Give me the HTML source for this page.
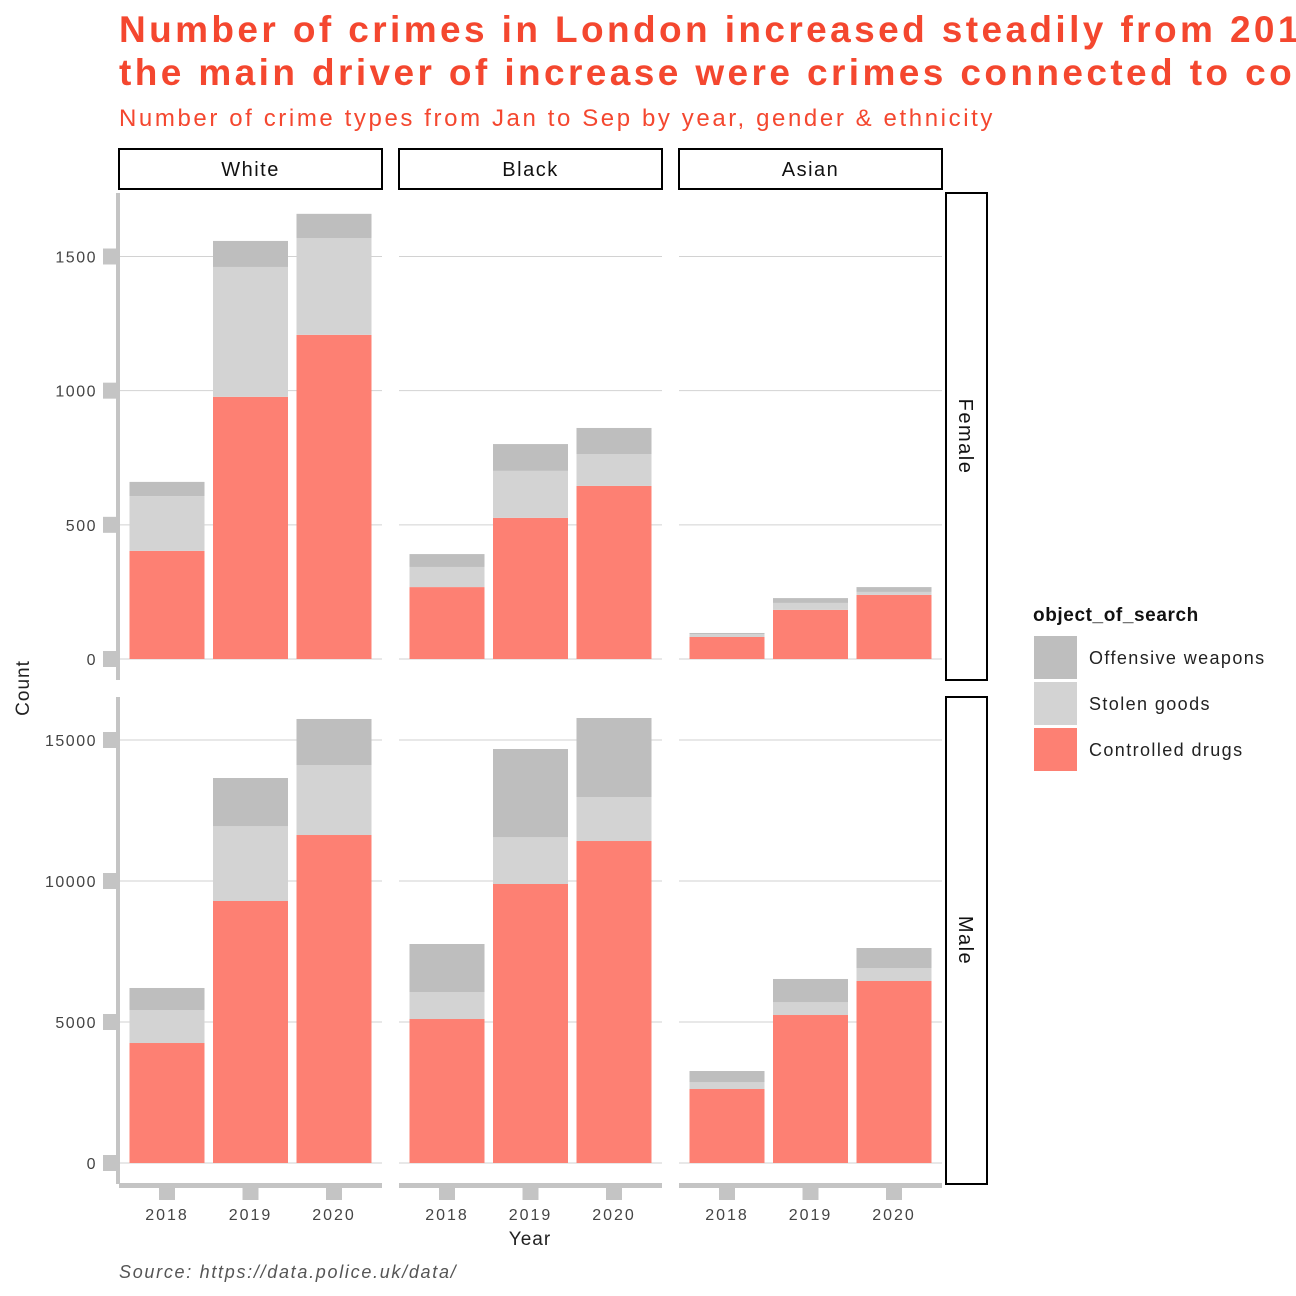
<!DOCTYPE html>
<html><head><meta charset="utf-8"><style>
body{margin:0;background:#fff}
svg{display:block;font-family:"Liberation Sans",sans-serif}
</style></head><body>
<svg id="chart" width="1296" height="1296" viewBox="0 0 1296 1296">
<text x="119" y="42" font-size="37" font-weight="bold" letter-spacing="3.4" fill="#F4472F">Number of crimes in London increased steadily from 2018 to 2020,</text>
<text x="119" y="85" font-size="37" font-weight="bold" letter-spacing="3.4" fill="#F4472F">the main driver of increase were crimes connected to controlled drugs</text>
<text x="119" y="126" font-size="24" letter-spacing="2.6" fill="#F4472F">Number of crime types from Jan to Sep by year, gender &amp; ethnicity</text>
<g id="plots"></g>
<text x="530" y="1245" font-size="19" letter-spacing="1" text-anchor="middle" fill="#222">Year</text>
<text transform="translate(29,688) rotate(-90)" font-size="19" letter-spacing="1" text-anchor="middle" fill="#222">Count</text>
<text x="119" y="1278" font-size="18" font-style="italic" letter-spacing="1.7" fill="#555">Source:  https://data.police.uk/data/</text>
<g>
<text x="1033" y="621" font-size="19" font-weight="bold" letter-spacing="0.6" fill="#111">object_of_search</text>
<rect x="1034" y="636" width="43" height="43" fill="#bebebe"/>
<text x="1089" y="664" font-size="18" letter-spacing="1.4" fill="#222">Offensive weapons</text>
<rect x="1034" y="682" width="43" height="43" fill="#d3d3d3"/>
<text x="1089" y="710" font-size="18" letter-spacing="1.4" fill="#222">Stolen goods</text>
<rect x="1034" y="728" width="43" height="43" fill="#FD8073"/>
<text x="1089" y="756" font-size="18" letter-spacing="1.4" fill="#222">Controlled drugs</text>
</g>
</svg>
<script>
const years = ["2018","2019","2020"];
const ethnicities = ["White","Black","Asian"];
const genders = ["Female","Male"];
// values per gender -> ethnicity -> year
const drugsFemale = [[403,977,1208],[268,526,645],[82,183,239]];
const stolenFemale = [[204,484,361],[75,175,119],[11,26,11]];
const weaponsFemale = [[53,97,90],[48,100,97],[4,18,18]];
const drugsMale = [[4255,9291,11631],[5106,9894,11418],[2624,5248,6454]];
const stolenMale = [[1171,2659,2482],[958,1666,1561],[248,461,461]];
const weaponsMale = [[780,1702,1632],[1702,3121,2801],[390,816,709]];
const femaleTicks = [0,500,1000,1500];
const maleTicks = [0,5000,10000,15000];

const NS="http://www.w3.org/2000/svg";
const g=document.getElementById('plots');
function mk(tag,attrs,parent){const e=document.createElementNS(NS,tag);for(const k in attrs)e.setAttribute(k,attrs[k]);(parent||g).appendChild(e);return e;}
const panelX=[119,399,679], panelW=263;
const rows=[
 {top:193,bottom:680,zeroY:659,scale:(659-256.5)/1500,ticks:femaleTicks,d:drugsFemale,s:stolenFemale,w:weaponsFemale},
 {top:697,bottom:1184,zeroY:1163,scale:(1163-740)/15000,ticks:maleTicks,d:drugsMale,s:stolenMale,w:weaponsMale}
];
function xBand(p,i){return panelX[p]+48+83.5*i;}
rows.forEach((r,ri)=>{
 const yS=v=>r.zeroY-v*r.scale;
 ethnicities.forEach((eth,p)=>{
  r.ticks.forEach(t=>{
   const l=mk('line',{x1:panelX[p],x2:panelX[p]+panelW,y1:yS(t),y2:yS(t),stroke:'#d2d2d2','stroke-width':1});
   
   
  });
  years.forEach((yr,i)=>{
   const cx=xBand(p,i), bw=75;
   const segs=[[r.d[p][i],'#FD8073','drugs'],[r.s[p][i],'#d3d3d3','stolen'],[r.w[p][i],'#bebebe','weapons']];
   let base=0;
   segs.forEach(([v,c,n])=>{
    const rc=mk('rect',{x:cx-bw/2,y:yS(base+v),width:bw,height:v*r.scale,fill:c});
    
    
    base+=v;
   });
  });
 });
 const ax=mk('rect',{x:116,y:r.top,width:4,height:r.bottom-r.top,fill:'#c4c4c4'});
 
 
 r.ticks.forEach(t=>{
  const tk=mk('rect',{x:103,y:yS(t)-8,width:14,height:16,fill:'#c4c4c4'});
  
  
  const tx=mk('text',{x:97,y:yS(t)+6,'font-size':16,'letter-spacing':1.5,'text-anchor':'end',fill:'#444'});
  tx.textContent=t;
  
  
 });
 const sr=mk('rect',{x:946,y:r.top,width:41,height:r.bottom-r.top,fill:'#fff',stroke:'#000','stroke-width':2});
 
 
 const st=mk('text',{transform:`translate(959,${(r.top+r.bottom)/2}) rotate(90)`,'font-size':20,'letter-spacing':1.5,'text-anchor':'middle',fill:'#111'});
 st.textContent=genders[ri];
 
 
});
ethnicities.forEach((eth,p)=>{
 const s=mk('rect',{x:panelX[p],y:149,width:panelW,height:40,fill:'#fff',stroke:'#000','stroke-width':2});
 
 
 const t=mk('text',{x:panelX[p]+panelW/2,y:176,'font-size':20,'letter-spacing':1.5,'text-anchor':'middle',fill:'#111'});
 t.textContent=eth;
 
 
 const xa=mk('rect',{x:panelX[p],y:1183,width:panelW,height:5,fill:'#c4c4c4'});
 
 
 years.forEach((yr,i)=>{
  const cx=xBand(p,i);
  const tk=mk('rect',{x:cx-8,y:1187,width:16,height:13,fill:'#c4c4c4'});
  
  
  const tx=mk('text',{x:cx,y:1220,'font-size':16,'letter-spacing':2,'text-anchor':'middle',fill:'#444'});
  tx.textContent=yr;
  
  
 });
});
</script>
</body></html>
